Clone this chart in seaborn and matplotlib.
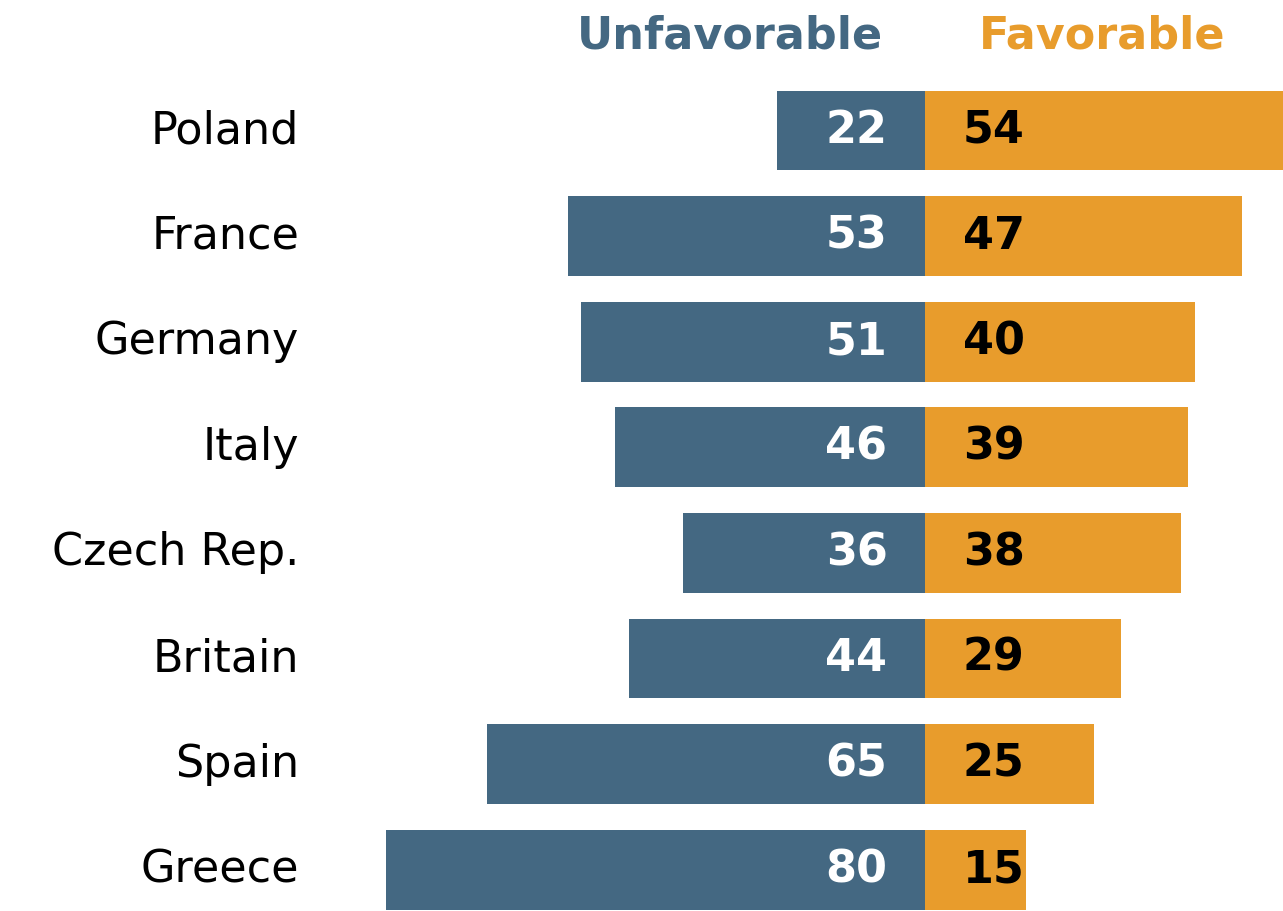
import matplotlib
matplotlib.use("Agg")
import matplotlib.pyplot as plt
import seaborn as sns
import pandas as pd

countries = ["Poland", "France", "Germany", "Italy", "Czech Rep.", "Britain", "Spain", "Greece"]
unfavorable = [22, 53, 51, 46, 36, 44, 65, 80]
favorable = [54, 47, 40, 39, 38, 29, 25, 15]

BLUE = "#446882"
ORANGE = "#e89c2c"

sns.set_theme(style="white")
plt.rcParams['font.family'] = ['DejaVu Sans']

W, H = 1283, 911
fig = plt.figure(figsize=(W / 100, H / 100), dpi=100)
ax_left = 386 / W
ax = fig.add_axes([ax_left, 0, 1 - ax_left, 1])

df = pd.DataFrame({"country": countries, "unf": [-v for v in unfavorable], "fav": favorable})
sns.barplot(data=df, y="country", x="unf", color=BLUE, orient="h", width=0.755,
            saturation=1, ax=ax, order=countries, linewidth=0)
sns.barplot(data=df, y="country", x="fav", color=ORANGE, orient="h", width=0.755,
            saturation=1, ax=ax, order=countries, linewidth=0)

px_per_unit = 6.74
ax.set_xlim(-80, -80 + (W - 386) / px_per_unit)
sp = 105.6
c0 = 130.5
ax.set_ylim((H - c0) / sp, -c0 / sp)
ax.axis("off")

fs = 32
for i, (c, u, f) in enumerate(zip(countries, unfavorable, favorable)):
    ax.text(-5.6, i, str(u), color="white", fontsize=fs, fontweight="bold",
            ha="right", va="center")
    ax.text(5.6, i, str(f), color="black", fontsize=fs, fontweight="bold",
            ha="left", va="center")
    fig.text(299 / W, 1 - (c0 + sp * i) / H, c, color="black", fontsize=fs,
             ha="right", va="center")

fig.text(730 / W, 1 - 36 / H, "Unfavorable", color=BLUE, fontsize=fs, fontweight="bold",
         ha="center", va="center")
fig.text(1102 / W, 1 - 36 / H, "Favorable", color=ORANGE, fontsize=fs, fontweight="bold",
         ha="center", va="center")

fig.savefig("out.png", dpi=100)
